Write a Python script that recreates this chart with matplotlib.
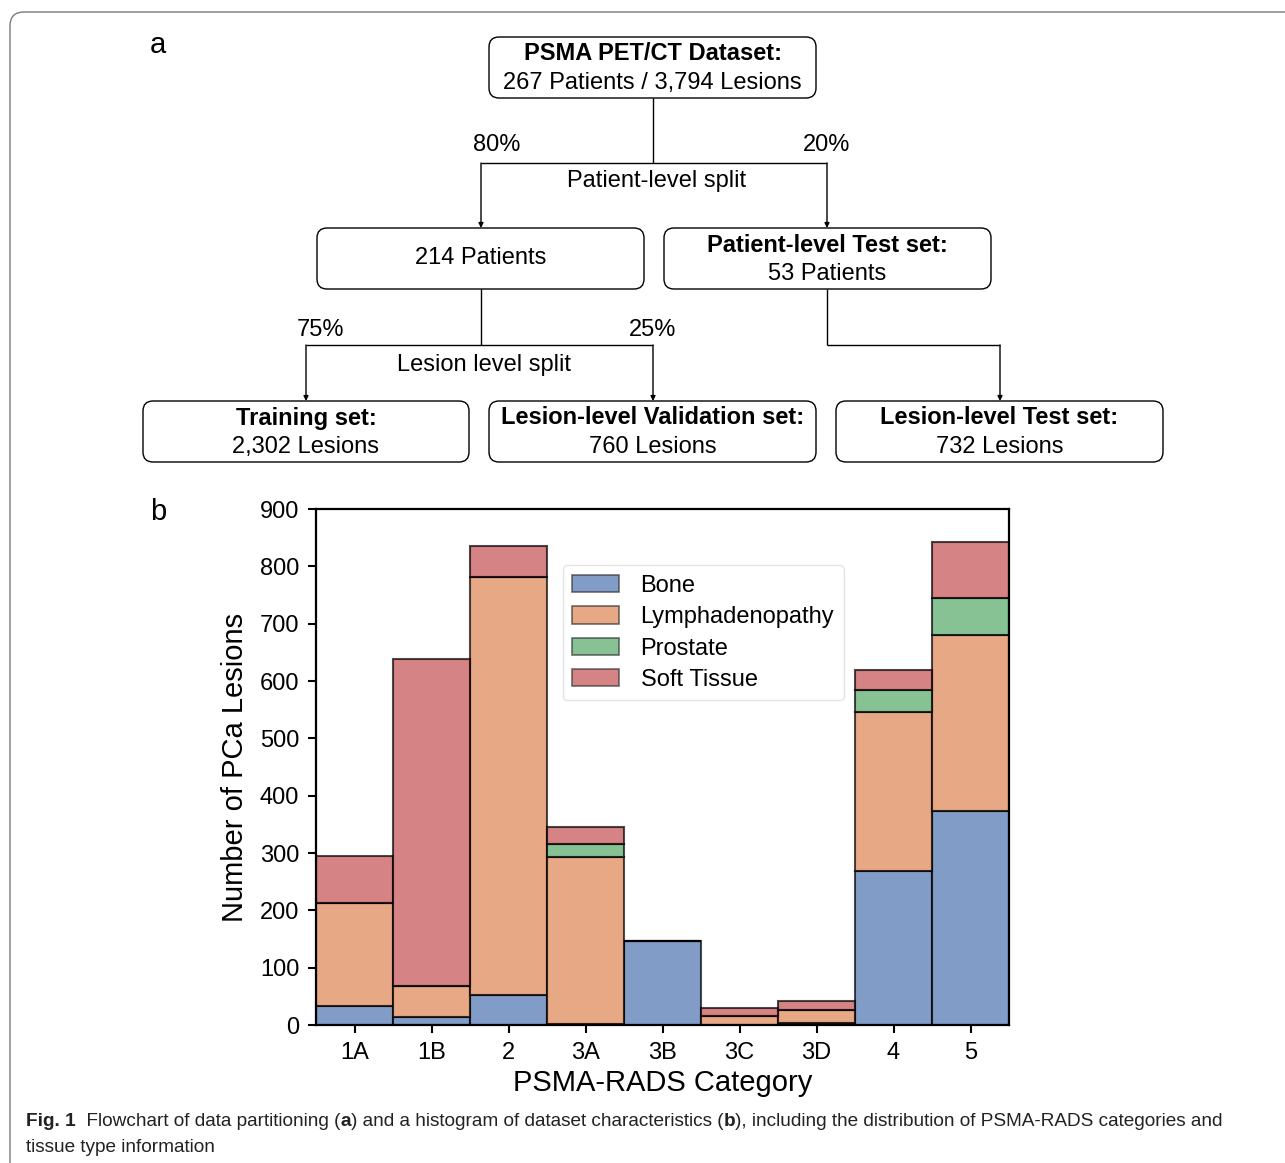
import numpy as np
import matplotlib
matplotlib.use("Agg")
import matplotlib.pyplot as plt
from matplotlib.patches import FancyBboxPatch
import seaborn as sns

plt.rcParams['font.family'] = ['Liberation Sans', 'DejaVu Sans']

# ------------------- bar chart data -------------------
categories = ['1A', '1B', '2', '3A', '3B', '3C', '3D', '4', '5']
tissues = ['Bone', 'Lymphadenopathy', 'Prostate', 'Soft Tissue']
bone = [33, 14, 52, 2, 146, 0, 3, 269, 374]
lymph = [180, 54, 729, 291, 1, 15, 24, 277, 307]
prostate = [0, 0, 0, 23, 0, 0, 0, 39, 63]
soft_tissue = [82, 570, 54, 29, 0, 15, 15, 35, 99]

# ------------------- flowchart text -------------------
box_top = ("PSMA PET/CT Dataset:", "267 Patients / 3,794 Lesions")
box_train_pool = "214 Patients"
box_patient_test = ("Patient-level Test set:", "53 Patients")
box_train = ("Training set:", "2,302 Lesions")
box_val = ("Lesion-level Validation set:", "760 Lesions")
box_lesion_test = ("Lesion-level Test set:", "732 Lesions")
split_pct = ["80%", "20%", "75%", "25%"]

W, H = 1285, 1163
fig = plt.figure(figsize=(W / 100, H / 100), dpi=100)
fig.patch.set_facecolor('white')

# pixel-space overlay for the flowchart, frame and caption
ov = fig.add_axes([0, 0, 1, 1])
ov.set_xlim(0, W)
ov.set_ylim(H, 0)
ov.axis('off')

# outer frame (runs off the right/bottom edge)
ov.add_patch(FancyBboxPatch((10, 12), 1320, 1200, boxstyle="round,pad=0,rounding_size=14",
                            fc='none', ec='#7a7a7a', lw=1.0))

FS = 17


def draw_box(x0, x1, y0, y1, lines):
    ov.add_patch(FancyBboxPatch((x0, y0), x1 - x0, y1 - y0,
                                boxstyle="round,pad=0,rounding_size=10",
                                fc='white', ec='black', lw=1.0))
    cx = (x0 + x1) / 2
    if isinstance(lines, str):
        ov.text(cx, (y0 + y1) / 2, lines, ha='center', va='center', fontsize=FS)
    else:
        ov.text(cx, y0 + 17, lines[0], ha='center', va='center', fontsize=FS,
                fontweight='bold')
        ov.text(cx, y0 + 46, lines[1], ha='center', va='center', fontsize=FS)


def line(xs, ys):
    ov.plot(xs, ys, color='black', lw=1.0, solid_capstyle='butt')


def arrow(x, y0, y1):
    ov.annotate('', xy=(x, y1), xytext=(x, y0),
                arrowprops=dict(arrowstyle='-|>', color='black', lw=1.0,
                                mutation_scale=7, shrinkA=0, shrinkB=0))


draw_box(489, 816, 37, 98, box_top)
draw_box(317, 644, 228, 289, box_train_pool)
draw_box(664, 991, 228, 289, box_patient_test)
draw_box(143, 469, 401, 462, box_train)
draw_box(489, 816, 401, 462, box_val)
draw_box(836, 1163, 401, 462, box_lesion_test)

# patient-level split
line([653, 653], [98, 163])
line([481, 827], [163, 163])
arrow(481, 163, 228)
arrow(827, 163, 228)
ov.text(497, 145, split_pct[0], ha='center', va='center', fontsize=FS)
ov.text(827, 145, split_pct[1], ha='center', va='center', fontsize=FS)
ov.text(657, 181, "Patient-level split", ha='center', va='center', fontsize=FS)

# lesion-level split
line([481, 481], [289, 345])
line([306, 653], [345, 345])
arrow(306, 345, 401)
arrow(653, 345, 401)
ov.text(321, 330, split_pct[2], ha='center', va='center', fontsize=FS)
ov.text(653, 330, split_pct[3], ha='center', va='center', fontsize=FS)
ov.text(484, 365, "Lesion level split", ha='center', va='center', fontsize=FS)

# patient-level test set -> lesion-level test set
line([827, 827], [289, 345])
line([827, 1000], [345, 345])
arrow(1000, 345, 401)

ov.text(158, 45, "a", ha='center', va='center', fontsize=21)
ov.text(158, 512, "b", ha='center', va='center', fontsize=21)

# caption, assembled piece by piece so that single letters can be bold
renderer = fig.canvas.get_renderer()
cap_fs = 13.7
pieces = [("Fig. 1", 'bold'), ("  Flowchart of data partitioning (", 'normal'), ("a", 'bold'),
          (") and a histogram of dataset characteristics (", 'normal'), ("b", 'bold'),
          ("), including the distribution of PSMA-RADS categories and", 'normal')]
cx = 26
for txt, wt in pieces:
    t = ov.text(cx, 1121, txt, ha='left', va='center', fontsize=cap_fs, fontweight=wt,
                color='#222222')
    cx += t.get_window_extent(renderer).width
ov.text(26, 1147, "tissue type information", ha='left', va='center', fontsize=cap_fs,
        color='#222222')

# ------------------- stacked histogram -------------------
ax = fig.add_axes([316 / W, 1 - 1025 / H, 693 / W, 516 / H])
deep = sns.color_palette('deep')
x = np.arange(len(categories))
series = [bone, lymph, prostate, soft_tissue]
bottom = np.zeros(len(categories))
for name, vals, col in zip(tissues, series, deep[:4]):
    vals = np.array(vals, dtype=float)
    ax.bar(x, vals, width=1.0, bottom=bottom, color=col, alpha=0.7,
           edgecolor='black', linewidth=1.5, label=name)
    bottom += vals

ax.set_xlim(-0.5, len(categories) - 0.5)
ax.set_ylim(0, 900)
ax.set_yticks(np.arange(0, 901, 100))
ax.set_xticks(x)
ax.set_xticklabels(categories)
ax.tick_params(axis='both', labelsize=17, length=6, width=1.5, direction='out', pad=6)
for s in ax.spines.values():
    s.set_linewidth(1.6)
ax.set_ylabel("Number of PCa Lesions", fontsize=21, labelpad=8)
ax.set_xlabel("PSMA-RADS Category", fontsize=21, labelpad=4)
leg = ax.legend(loc='upper left', bbox_to_anchor=(0.356, 0.891), fontsize=17,
                frameon=True, fancybox=True, handlelength=2.0, handleheight=0.75,
                borderpad=0.4, labelspacing=0.4, borderaxespad=0, handletextpad=0.9)
leg.get_frame().set_edgecolor('#dddddd')
leg.get_frame().set_linewidth(1.0)
for h in leg.legend_handles:
    h.set_edgecolor('#333333')
    h.set_linewidth(1.2)

fig.savefig('out.png', dpi=100)
